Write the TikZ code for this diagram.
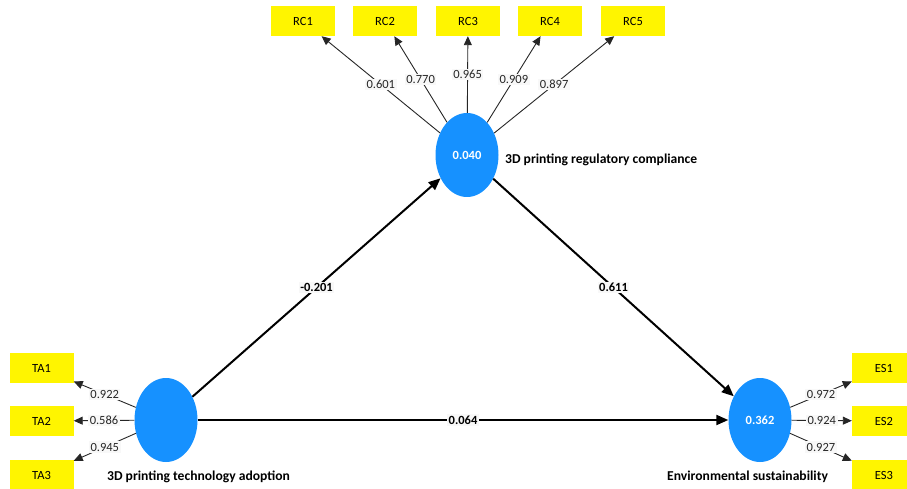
\documentclass[tikz,border=0pt]{standalone}
\usepackage{fontspec}
\setmainfont{Carlito}
\usetikzlibrary{arrows.meta,shapes.geometric}
\definecolor{lvblue}{RGB}{22,145,255}
\definecolor{indyellow}{RGB}{255,245,0}
\definecolor{lblbg}{RGB}{248,248,248}
\tikzset{
  lv/.style={ellipse, fill=lvblue, draw=none, minimum width=63pt, minimum height=84pt, inner sep=0pt, text=white, font=\fontsize{12.5}{13}\selectfont\bfseries},
  ind/.style={rectangle, fill=indyellow, draw=none, minimum width=64pt, minimum height=30pt, inner sep=0pt, font=\fontsize{12.5}{13}\selectfont},
  loadarrow/.style={draw=black!85, line width=0.9pt, -{Triangle[length=9pt,width=8pt]}},
  patharrow/.style={draw=black, line width=2pt, -{Triangle[length=12pt,width=10pt]}},
  loadlbl/.style={fill=lblbg, inner sep=1.5pt, font=\fontsize{12.5}{13}\selectfont, text=black!85},
  pathlbl/.style={fill=lblbg, inner sep=1.5pt, font=\fontsize{12.5}{13}\selectfont\bfseries},
  lvname/.style={font=\fontsize{13.6}{14}\selectfont\bfseries, inner sep=0pt, anchor=west},
}
\begin{document}
\begin{tikzpicture}[x=1pt,y=-1pt]
\useasboundingbox (0,0) rectangle (907,489);
\clip (0,0) rectangle (907,489);
% latent variables
\node[lv] (RC) at (467,155) {0.040};
\node[lv] (TA) at (166,420) {};
\node[lv] (ES) at (760,420) {0.362};
% names
\node[lvname] (RCn) at (505,160) {3D printing regulatory compliance};
\node[lvname] (TAn) at (107,477) {3D printing technology adoption};
\node[lvname] (ESn) at (667,477) {Environmental sustainability};
% indicators
\node[ind] (RC1) at (303,21) {RC1};
\node[ind] (RC2) at (385,21) {RC2};
\node[ind] (RC3) at (468,21) {RC3};
\node[ind] (RC4) at (550,21) {RC4};
\node[ind] (RC5) at (633,21) {RC5};
\node[ind] (TA1) at (41.5,368) {TA1};
\node[ind] (TA2) at (41.5,421) {TA2};
\node[ind] (TA3) at (41.5,475) {TA3};
\node[ind] (ES1) at (884,368) {ES1};
\node[ind] (ES2) at (884,421) {ES2};
\node[ind] (ES3) at (884,475) {ES3};
% loadings
\draw[loadarrow] (RC) -- node[loadlbl] {0.601} (RC1);
\draw[loadarrow] (RC) -- node[loadlbl] {0.770} (RC2);
\draw[loadarrow] (RC) -- node[loadlbl] {0.965} (RC3);
\draw[loadarrow] (RC) -- node[loadlbl] {0.909} (RC4);
\draw[loadarrow] (RC) -- node[loadlbl] {0.897} (RC5);
\draw[loadarrow] (TA) -- node[loadlbl] {0.922} (TA1);
\draw[loadarrow] (TA) -- node[loadlbl] {0.586} (TA2);
\draw[loadarrow] (TA) -- node[loadlbl] {0.945} (TA3);
\draw[loadarrow] (ES) -- node[loadlbl] {0.972} (ES1);
\draw[loadarrow] (ES) -- node[loadlbl] {0.924} (ES2);
\draw[loadarrow] (ES) -- node[loadlbl] {0.927} (ES3);
% structural paths
\draw[patharrow] (TA) -- node[pathlbl] {-0.201} (RC);
\draw[patharrow] (RC) -- node[pathlbl] {0.611} (ES);
\draw[patharrow] (TA) -- node[pathlbl] {0.064} (ES);
\end{tikzpicture}
\end{document}
